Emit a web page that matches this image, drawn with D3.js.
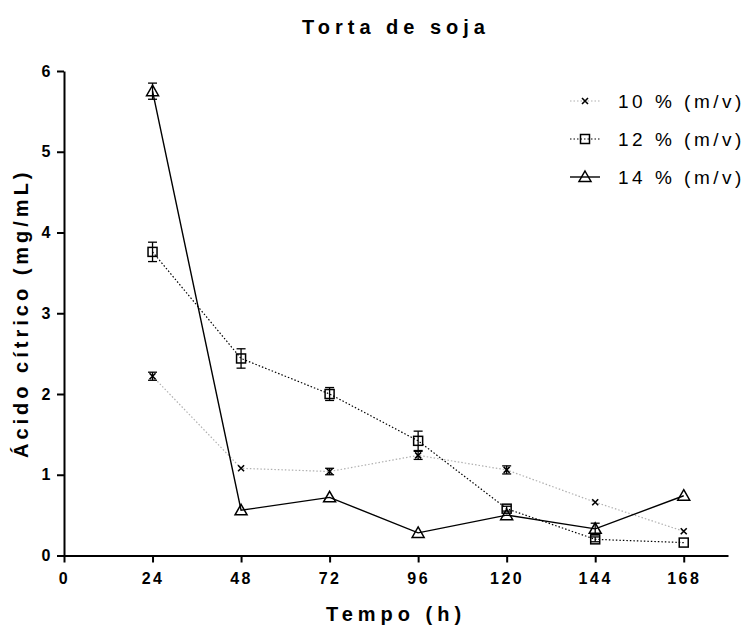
<!DOCTYPE html>
<html>
<head>
<meta charset="utf-8">
<script src="https://cdn.jsdelivr.net/npm/d3@7"></script>
<style>
body { margin: 0; background: #fff; }
svg { font-family: Arial, "Liberation Sans", sans-serif; }
.axis path, .axis line { stroke: #000; stroke-width: 2; }
.axis text { font-size: 16px; font-weight: bold; letter-spacing: 2.5px; fill: #000; }
</style>
</head>
<body>
<script>
// time points (h)
var hours = [24, 48, 72, 96, 120, 144, 168];
var xTicks = [0, 24, 48, 72, 96, 120, 144, 168];
var yTicks = [0, 1, 2, 3, 4, 5, 6];

// citric acid (mg/mL) and error bars per concentration
var s10 = [2.22, 1.08, 1.04, 1.24, 1.06, 0.66, 0.30];
var e10 = [0.05, 0.00, 0.04, 0.05, 0.05, 0.00, 0.00];
var s12 = [3.76, 2.44, 2.00, 1.42, 0.58, 0.20, 0.16];
var e12 = [0.12, 0.12, 0.08, 0.12, 0.03, 0.03, 0.00];
var s14 = [5.75, 0.56, 0.72, 0.28, 0.50, 0.33, 0.74];
var e14 = [0.10, 0.00, 0.00, 0.00, 0.00, 0.07, 0.00];

var labels = ["10 % (m/v)", "12 % (m/v)", "14 % (m/v)"];

var width = 744, height = 628;

var svg = d3.select("body").append("svg")
  .attr("width", width)
  .attr("height", height);

var x = d3.scaleLinear().domain([0, 180]).range([64, 728]);
var y = d3.scaleLinear().domain([0, 6]).range([555.5, 71]);

// series styles
var series = [
  {vals: s10, err: e10, name: labels[0], color: "#b0b0b0", dash: "1.5,2", width: 1.2, sym: "x"},
  {vals: s12, err: e12, name: labels[1], color: "#000", dash: "1.5,2", width: 1.2, sym: "square"},
  {vals: s14, err: e14, name: labels[2], color: "#000", dash: null, width: 1.4, sym: "tri"}
];

function marker(g, type) {
  if (type == "x") {
    g.append("path").attr("d", "M-3,-3L3,3M-3,3L3,-3")
      .attr("stroke", "#000").attr("stroke-width", 1.6).attr("fill", "none");
  } else if (type == "square") {
    g.append("rect").attr("x", -4.5).attr("y", -4.5).attr("width", 9).attr("height", 9)
      .attr("stroke", "#000").attr("stroke-width", 1.5).attr("fill", "none");
  } else {
    g.append("path").attr("d", "M0,-6L6,4.5L-6,4.5Z")
      .attr("stroke", "#000").attr("stroke-width", 1.5).attr("fill", "none");
  }
}

// axes
svg.append("g").attr("class", "axis")
  .attr("transform", "translate(0," + y(0) + ")")
  .call(d3.axisBottom(x).tickValues(xTicks).tickSize(7).tickSizeOuter(0).tickPadding(10));

svg.append("g").attr("class", "axis")
  .attr("transform", "translate(" + x(0) + ",0)")
  .call(d3.axisLeft(y).tickValues(yTicks).tickFormat(d3.format("d")).tickSize(7).tickSizeOuter(0).tickPadding(4));

// lines, error bars, markers
series.forEach(function(s) {
  var pts = hours.map(function(h, i) { return {h: h, v: s.vals[i], e: s.err[i]}; });
  var line = d3.line().x(function(d) { return x(d.h); }).y(function(d) { return y(d.v); });
  svg.append("path").datum(pts)
    .attr("d", line)
    .attr("fill", "none")
    .attr("stroke", s.color)
    .attr("stroke-width", s.width)
    .attr("stroke-dasharray", s.dash);

  var eb = svg.append("g").selectAll("g")
    .data(pts.filter(function(d) { return d.e > 0; }))
    .enter().append("g")
    .attr("stroke", "#000").attr("stroke-width", 1.3);
  eb.append("line")
    .attr("x1", function(d) { return x(d.h); }).attr("x2", function(d) { return x(d.h); })
    .attr("y1", function(d) { return y(d.v + d.e); }).attr("y2", function(d) { return y(d.v - d.e); });
  eb.append("line")
    .attr("x1", function(d) { return x(d.h) - 4.5; }).attr("x2", function(d) { return x(d.h) + 4.5; })
    .attr("y1", function(d) { return y(d.v + d.e); }).attr("y2", function(d) { return y(d.v + d.e); });
  eb.append("line")
    .attr("x1", function(d) { return x(d.h) - 4.5; }).attr("x2", function(d) { return x(d.h) + 4.5; })
    .attr("y1", function(d) { return y(d.v - d.e); }).attr("y2", function(d) { return y(d.v - d.e); });

  svg.append("g").selectAll("g")
    .data(pts)
    .enter().append("g")
    .attr("transform", function(d) { return "translate(" + x(d.h) + "," + y(d.v) + ")"; })
    .each(function() { marker(d3.select(this), s.sym); });
});

// legend
var leg = svg.append("g").selectAll("g")
  .data(series)
  .enter().append("g")
  .attr("transform", function(d, i) { return "translate(585," + (101 + i * 38) + ")"; });
leg.append("line")
  .attr("x1", -15).attr("x2", 15)
  .attr("stroke", function(d) { return d.color; })
  .attr("stroke-width", function(d) { return d.width; })
  .attr("stroke-dasharray", function(d) { return d.dash; });
leg.each(function(d) { marker(d3.select(this), d.sym); });
leg.append("text")
  .attr("x", 33).attr("dy", "0.36em")
  .style("font-size", "19px")
  .style("letter-spacing", "3.5px")
  .text(function(d) { return d.name; });

// titles
svg.append("text")
  .attr("x", 396).attr("y", 34)
  .attr("text-anchor", "middle")
  .style("font-size", "20px").style("font-weight", "bold").style("letter-spacing", "5px")
  .text("Torta de soja");

svg.append("text")
  .attr("x", 396).attr("y", 621)
  .attr("text-anchor", "middle")
  .style("font-size", "20px").style("font-weight", "bold").style("letter-spacing", "5px")
  .text("Tempo (h)");

svg.append("text")
  .attr("transform", "translate(28," + y(3) + ") rotate(-90)")
  .attr("text-anchor", "middle")
  .style("font-size", "20px").style("font-weight", "bold").style("letter-spacing", "4px")
  .text("Ácido cítrico (mg/mL)");
</script>
</body>
</html>
